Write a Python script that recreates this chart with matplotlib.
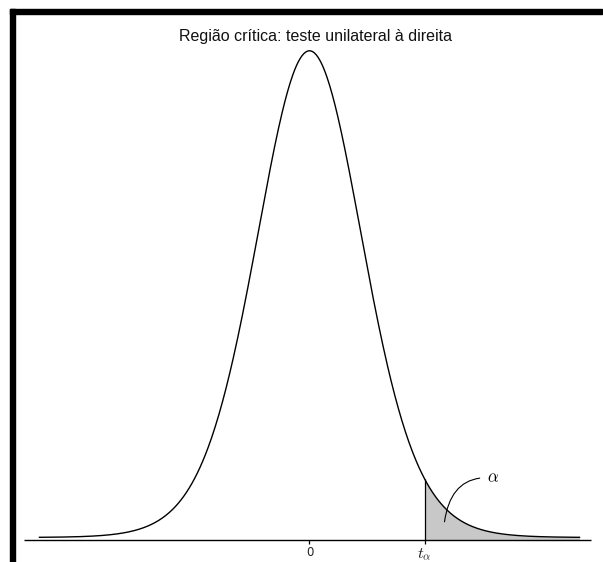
import math
import numpy as np
import matplotlib
matplotlib.use('Agg')
from matplotlib import pyplot as plt
from matplotlib.patches import Rectangle

plt.rcParams['mathtext.fontset'] = 'cm'

# t de Student, teste unilateral a direita
graus_liberdade = 15
t_alpha = 2.131
x_min, x_max = -5, 5
tick_pos = [0, t_alpha]
tick_labels = ['0', r'$t_\alpha$']
titulo = 'Região crítica: teste unilateral à direita'


def dens_t(x, v):
    c = math.exp(math.lgamma((v + 1) / 2) - math.lgamma(v / 2)) / math.sqrt(v * math.pi)
    return c * (1 + np.asarray(x) ** 2 / v) ** (-(v + 1) / 2)


x = np.linspace(x_min, x_max, 600)
y = dens_t(x, graus_liberdade)

fig = plt.figure(figsize=(6.03, 5.62), dpi=100)
ax = fig.add_axes([0, 0, 1, 1])
ax.set_xlim(-5.731, 5.435)
ax.set_ylim(-0.01975, 0.4333)
ax.axis('off')

axis_y = -0.002

# regiao critica
xs = np.concatenate([[t_alpha], x[x > t_alpha]])
ys = dens_t(xs, graus_liberdade)
ax.fill_between(xs, ys, axis_y, color='#c8c8c8', lw=0)
ax.vlines(t_alpha, axis_y, dens_t(t_alpha, graus_liberdade), color='black', lw=0.9)

ax.plot(x, y, color='black', lw=1.0)

# eixo x
ax.hlines(axis_y, -5.28, 5.22, color='black', lw=1.0)
for pos, lab in zip(tick_pos, tick_labels):
    ax.vlines(pos, axis_y - 0.0035, axis_y, color='black', lw=0.9)
    ax.text(pos, axis_y - 0.0045, lab, ha='center', va='top',
            fontsize=8.5 if lab == '0' else 11.5, color='#222222')

ax.text(0.12, 0.4035, titulo, ha='center', va='center', fontsize=11.5,
        family=['Liberation Sans', 'DejaVu Sans'], color='#111111')

ax.annotate(r'$\alpha$', xy=(2.50, 0.0127), xytext=(3.28, 0.0482),
            ha='left', va='center', fontsize=12,
            arrowprops=dict(arrowstyle='-', color='black', lw=0.8,
                            connectionstyle='angle3,angleA=0,angleB=82',
                            relpos=(0, 0.5), shrinkA=3, shrinkB=0))

# moldura da captura
fig.add_artist(Rectangle((10 / 603, 1 - 14 / 562), 592 / 603, 5 / 562,
                         transform=fig.transFigure, color='black'))
fig.add_artist(Rectangle((10 / 603, 0), 5 / 603, 553 / 562,
                         transform=fig.transFigure, color='black'))

fig.savefig('out.png', dpi=100)
